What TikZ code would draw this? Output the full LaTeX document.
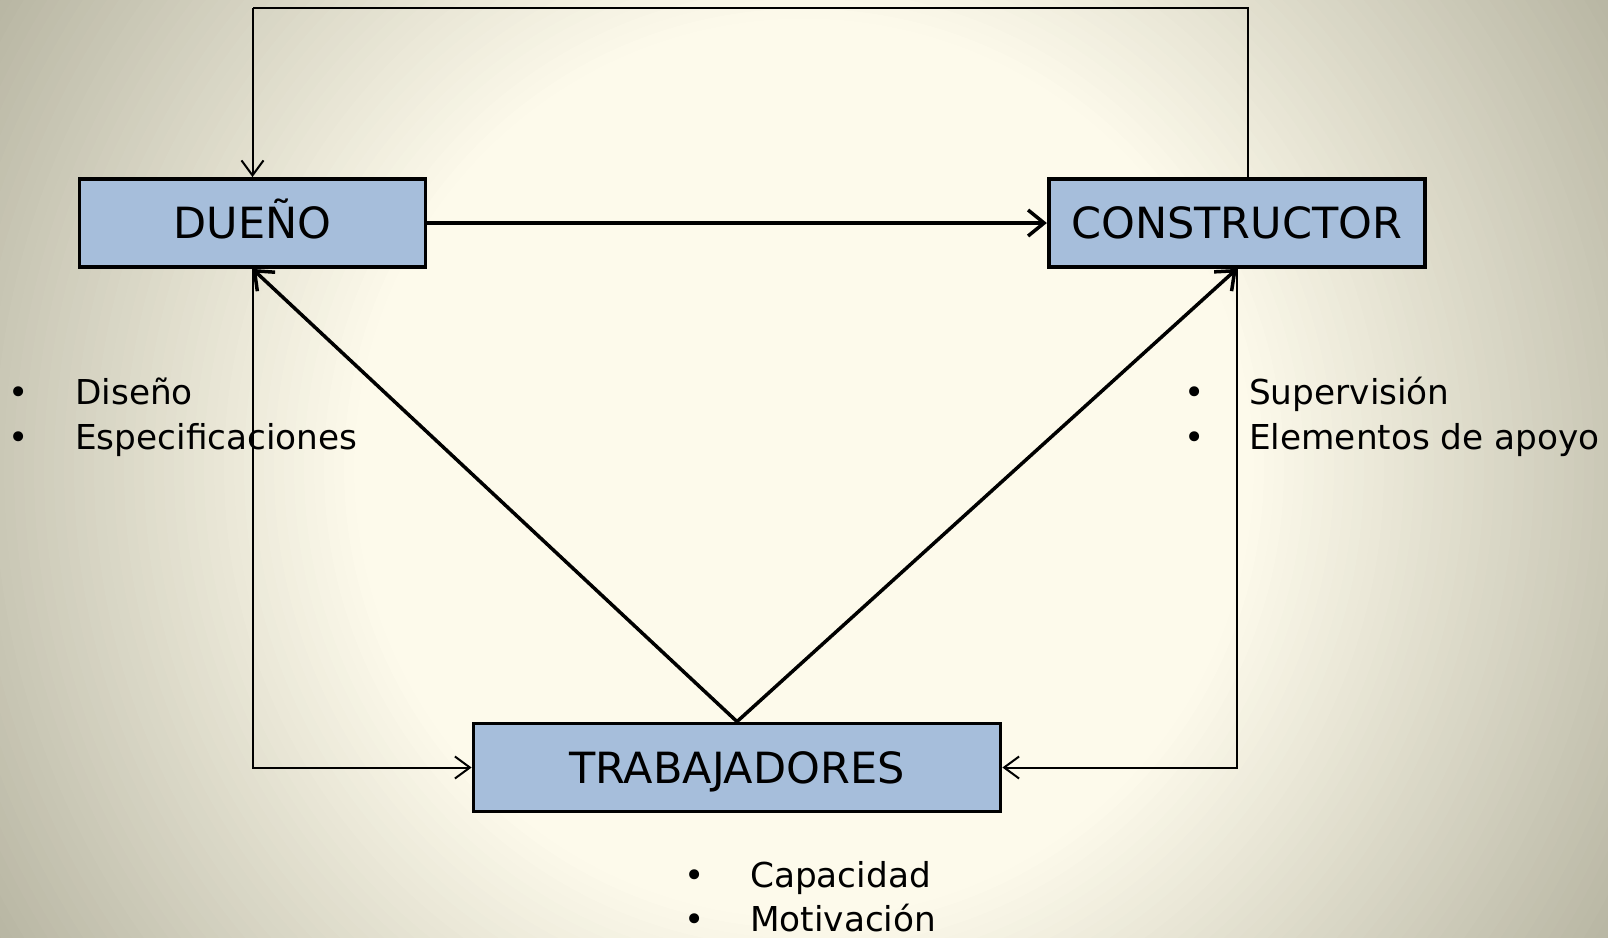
\documentclass[tikz,border=0pt]{standalone}
\usepackage{fontspec}
\setmainfont{DejaVu Sans}
\usetikzlibrary{arrows.meta}

\definecolor{bgcream}{HTML}{FDFAEB}
\definecolor{bgedge}{HTML}{B6B4A1}
\definecolor{boxblue}{HTML}{A6BEDB}

\begin{document}
\begin{tikzpicture}[x=1pt,y=-1pt,
  box/.style={draw=black,line width=3.8pt,fill=boxblue,minimum height=88pt,
    inner sep=0pt,text height=31pt,text depth=0pt,font=\fontsize{43}{50}\selectfont},
  thinlink/.style={line width=2pt,-{Straight Barb[length=15pt,width=22pt]}},
  thicklink/.style={line width=3.5pt,-{Straight Barb[length=16pt,width=26pt]}},
  plainlink/.style={line width=2pt},
  itemtext/.style={anchor=base west,inner sep=0pt,font=\fontsize{34.3}{40}\selectfont},
  bullet/.style={anchor=base,inner sep=0pt,font=\fontsize{34.3}{40}\selectfont}]

\useasboundingbox (0,0) rectangle (1608,937);

% background: cream glow fading to olive grey towards the corners,
% built from concentric discs (largest first)
\begin{scope}
  \clip (0,0) rectangle (1608,937);
  \fill[bgedge] (0,0) rectangle (1608,937);
  \coordinate (glow) at (804,468.5);
  \foreach \r in {950,940,...,450} {
    \pgfmathtruncatemacro{\mix}{(\r-450)/5}
    \fill[color=bgedge!\mix!bgcream] (glow) circle (\r pt);
  }
\end{scope}

% the three parties
\node[box,minimum width=346pt] (duen) at (252.5,223) {DUEÑO};
\node[box,minimum width=376pt] (cons) at (1236.75,223) {CONSTRUCTOR};
\node[box,minimum width=527pt] (trab) at (737,767.5) {TRABAJADORES};

% relations
\coordinate (topR) at (1248.25,8);
\coordinate (topL) at (252.5,8);
\draw[plainlink] ([xshift=11.5pt]cons.north) -- (topR) -- (topL);
\draw[thinlink] (topL) -- (duen.north);
\draw[thinlink] (duen.south) |- (trab.west);
\draw[thinlink] (cons.south) |- (trab.east);
\draw[thicklink] (duen.east) -- (cons.west);
\draw[thicklink] (trab.north) -- (duen.south);
\draw[thicklink] (trab.north) -- (cons.south);

% contributions of the owner
\node[bullet] (b1) at (19,404) {•};
\node[itemtext] (t1) at (75,404) {Diseño};
\node[bullet] (b2) at (19,449) {•};
\node[itemtext] (t2) at (75,449) {Especificaciones};

% contributions of the builder
\node[bullet] (b3) at (1195,404) {•};
\node[itemtext] (t3) at (1249,404) {Supervisión};
\node[bullet] (b4) at (1195,449) {•};
\node[itemtext] (t4) at (1249,449) {Elementos de apoyo};

% contributions of the workers
\node[bullet] (b5) at (695,887) {•};
\node[itemtext] (t5) at (750,887) {Capacidad};
\node[bullet] (b6) at (695,931) {•};
\node[itemtext] (t6) at (750,931) {Motivación};

\end{tikzpicture}
\end{document}
